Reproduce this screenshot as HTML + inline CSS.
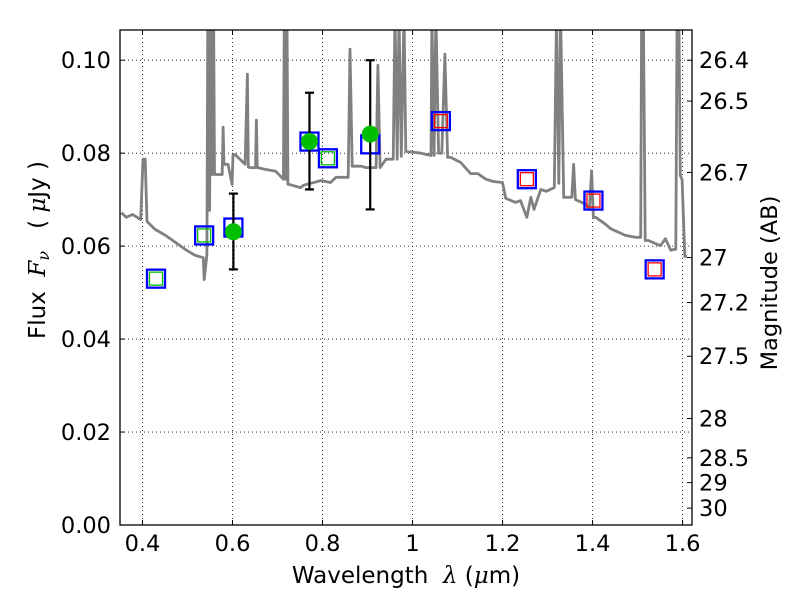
<!DOCTYPE html>
<html><head><meta charset="utf-8">
<style>
body{margin:0;background:#fff;}
svg{display:block;font-family:"DejaVu Sans","Liberation Sans",sans-serif;}
</style></head>
<body>
<svg id="chart" width="800" height="600" viewBox="0 0 800 600" xmlns="http://www.w3.org/2000/svg">
<rect x="0" y="0" width="800" height="600" fill="#fff"/>
<g id="grid"></g>
<g id="spec"></g>
<g id="marks"></g>
<g id="axes"></g>
<text x="406" y="583" font-size="23" text-anchor="middle" xml:space="preserve">Wavelength  <tspan font-family="DejaVu Serif" font-style="italic">λ</tspan> (<tspan font-family="DejaVu Serif" font-style="italic">μ</tspan>m)</text>
<text transform="translate(45,250) rotate(-90)" font-size="23" text-anchor="middle" xml:space="preserve">Flux  <tspan font-family="DejaVu Serif" font-style="italic">F<tspan font-size="16" dy="4">ν</tspan></tspan><tspan dy="-4">   ( </tspan><tspan font-family="DejaVu Serif" font-style="italic">μ</tspan>Jy )</text>
<text transform="translate(777,283) rotate(-90)" font-size="22.5" text-anchor="middle">Magnitude (AB)</text>
</svg>
<script>
const specWave=[0.353,0.364,0.378,0.396,0.401,0.406,0.410,0.428,0.451,0.473,0.495,0.517,0.535,0.537,0.543,0.545,0.547,0.549,0.552,0.554,0.556,0.558,0.560,0.572,0.577,0.579,0.581,0.590,0.599,0.601,0.606,0.628,0.633,0.635,0.640,0.651,0.653,0.655,0.673,0.696,0.713,0.715,0.718,0.721,0.723,0.725,0.751,0.758,0.796,0.818,0.830,0.857,0.861,0.866,0.886,0.897,0.919,0.923,0.928,0.941,0.957,0.961,0.966,0.970,0.975,0.981,0.985,1.019,1.041,1.043,1.048,1.052,1.058,1.065,1.072,1.078,1.085,1.107,1.129,1.145,1.163,1.179,1.200,1.207,1.229,1.240,1.254,1.263,1.270,1.285,1.297,1.315,1.320,1.325,1.329,1.336,1.341,1.354,1.358,1.362,1.385,1.393,1.398,1.402,1.407,1.429,1.441,1.473,1.496,1.507,1.509,1.513,1.517,1.524,1.551,1.562,1.574,1.580,1.585,1.588,1.592,1.595,1.599,1.605,1.610,1.622];
const specFlux=[0.0672,0.0662,0.0668,0.0657,0.0787,0.0787,0.0653,0.0636,0.0623,0.0608,0.0593,0.0580,0.0575,0.0528,0.0582,0.11,0.0677,0.0677,0.11,0.0754,0.0754,0.11,0.0754,0.0754,0.0754,0.0856,0.0776,0.0776,0.0733,0.0797,0.0797,0.0776,0.0970,0.0770,0.0769,0.0769,0.0871,0.0769,0.0765,0.0761,0.0744,0.11,0.0744,0.11,0.0733,0.0733,0.0726,0.0731,0.0741,0.0737,0.0748,0.0748,0.1024,0.0772,0.0772,0.0769,0.0769,0.0989,0.0769,0.0787,0.0787,0.11,0.0787,0.11,0.0793,0.11,0.0804,0.0800,0.0795,0.11,0.0795,0.11,0.0800,0.0800,0.1013,0.0791,0.0791,0.0780,0.0756,0.0756,0.0744,0.0739,0.0737,0.0703,0.0694,0.0698,0.0662,0.0705,0.0679,0.0722,0.0718,0.0726,0.11,0.0735,0.11,0.0705,0.0705,0.0705,0.0776,0.0700,0.0690,0.0679,0.0762,0.0662,0.0662,0.0647,0.0637,0.0623,0.0619,0.0619,0.11,0.11,0.0612,0.0612,0.0601,0.0616,0.0591,0.0593,0.0593,0.11,0.11,0.0752,0.0743,0.0578,0.0578];
const filtWave=[0.430,0.537,0.812,0.602,0.771,0.906,1.063,1.254,1.402,1.538];
const filtFlux=[0.0530,0.0623,0.0789,0.0640,0.0825,0.0819,0.0869,0.0744,0.0698,0.0550];
const filtInner=['green','green','green','none','none','none','red','red','red','red'];
const obsWave=[0.602,0.771,0.906];
const obsFlux=[0.0631,0.0825,0.0841];
const obsLo=[0.0550,0.0722,0.0679];
const obsHi=[0.0713,0.0930,0.1000];
const xTicks=[0.4,0.6,0.8,1,1.2,1.4,1.6];
const xTickLabels=['0.4','0.6','0.8','1','1.2','1.4','1.6'];
const yTicks=[0,0.02,0.04,0.06,0.08,0.10];
const yTickLabels=['0.00','0.02','0.04','0.06','0.08','0.10'];
const magTicks=[26.4,26.5,26.7,27,27.2,27.5,28,28.5,29,30];
const magLabels=['26.4','26.5','26.7','27','27.2','27.5','28','28.5','29','30'];

const L=120,R=692,T=30,B=525;
const X0=0.35,X1=1.621,Y0=0,Y1=0.1065;
function sx(v){return L+(v-X0)/(X1-X0)*(R-L);}
function sy(v){return B-(v-Y0)/(Y1-Y0)*(B-T);}
function magToFlux(m){return Math.pow(10,(23.9-m)/2.5);}
const NS='http://www.w3.org/2000/svg';
function mk(tag,attrs,parent){const e=document.createElementNS(NS,tag);for(const k in attrs)e.setAttribute(k,attrs[k]);parent.appendChild(e);return e;}
const svg=document.getElementById('chart');
const grid=document.getElementById('grid'),spec=document.getElementById('spec'),marks=document.getElementById('marks'),axes=document.getElementById('axes');

const defs=mk('defs',{},svg);
const cp=mk('clipPath',{id:'plotclip'},defs);
mk('rect',{x:L,y:T,width:R-L,height:B-T},cp);
spec.setAttribute('clip-path','url(#plotclip)');

xTicks.forEach((v,i)=>{
  const x=sx(v);
  const g=mk('line',{x1:x,x2:x,y1:T,y2:B,stroke:'#000','stroke-width':0.8,'stroke-dasharray':'1,3'},grid);
  
  
  mk('line',{x1:x,x2:x,y1:B,y2:B-5,stroke:'#000'},axes);
  mk('line',{x1:x,x2:x,y1:T,y2:T+5,stroke:'#000'},axes);
  const t=mk('text',{x:x,y:B+26,'font-size':22.5,'text-anchor':'middle'},axes);
  t.textContent=xTickLabels[i];
  
  
});
yTicks.forEach((v,i)=>{
  const y=sy(v);
  if(v>0){const g=mk('line',{x1:L,x2:R,y1:y,y2:y,stroke:'#000','stroke-width':0.8,'stroke-dasharray':'1,3'},grid);
  
  }
  mk('line',{x1:L,x2:L+5,y1:y,y2:y,stroke:'#000'},axes);
  const t=mk('text',{x:L-9,y:y+8,'font-size':22.5,'text-anchor':'end'},axes);
  t.textContent=yTickLabels[i];
  
  
});
magTicks.forEach((m,i)=>{
  const y=sy(magToFlux(m));
  mk('line',{x1:R,x2:R-5,y1:y,y2:y,stroke:'#000'},axes);
  const t=mk('text',{x:R+7,y:y+8,'font-size':22.5},axes);
  t.textContent=magLabels[i];
  
  
});
const frame=mk('rect',{x:L,y:T,width:R-L,height:B-T,fill:'none',stroke:'#000','stroke-width':1.3},axes);



const pts=specWave.map((w,i)=>sx(w).toFixed(1)+','+sy(specFlux[i]).toFixed(1)).join(' ');
const pl=mk('polyline',{points:pts,fill:'none',stroke:'#808080','stroke-width':2.8,'stroke-linejoin':'round'},spec);



filtWave.forEach((w,i)=>{
  const x=sx(w),y=sy(filtFlux[i]);
  const o=mk('rect',{x:x-9,y:y-9,width:18,height:18,fill:'none',stroke:'#0000ff','stroke-width':2.3},marks);
  
  
  if(filtInner[i]!=='none'){
    const c=filtInner[i]==='green'?'#00bf00':'#ff0000';
    const r=mk('rect',{x:x-6.5,y:y-6.5,width:13,height:13,fill:'none',stroke:c,'stroke-width':1.3},marks);
    
    
  }
});
obsWave.forEach((w,i)=>{
  const x=sx(w);
  const e=mk('line',{x1:x,x2:x,y1:sy(obsLo[i]),y2:sy(obsHi[i]),stroke:'#000','stroke-width':2.2},marks);
  
  
  mk('line',{x1:x-4.5,x2:x+4.5,y1:sy(obsLo[i]),y2:sy(obsLo[i]),stroke:'#000','stroke-width':2.2},marks);
  mk('line',{x1:x-4.5,x2:x+4.5,y1:sy(obsHi[i]),y2:sy(obsHi[i]),stroke:'#000','stroke-width':2.2},marks);
  const c=mk('circle',{cx:x,cy:sy(obsFlux[i]),r:8.5,fill:'#00bf00'},marks);
  
  
});
</script>
</body></html>
